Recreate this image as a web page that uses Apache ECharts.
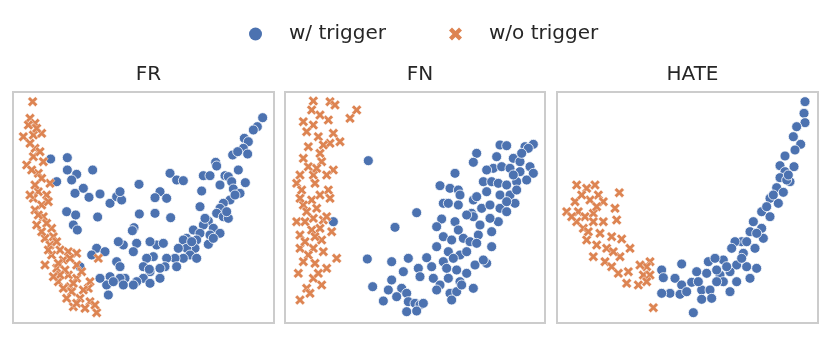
<!DOCTYPE html>
<html>
<head>
<meta charset="utf-8">
<script src="https://cdn.jsdelivr.net/npm/echarts@6/dist/echarts.min.js"></script>
<style>
  html, body { margin: 0; padding: 0; background: #fff; }
  #chart { width: 831px; height: 337px; }
</style>
</head>
<body>
<div id="chart"></div>
<script>
// t-SNE style coordinates (arbitrary units, y grows downward)
const panels = ['FR', 'FN', 'HATE'];
const legendNames = ['w/ trigger', 'w/o trigger'];

const frTrigger = [
  [758,98],[742,125],[730,135],[703,160],[715,170],[700,190],[668,210],[683,200],[713,207],[617,232],
  [620,243],[685,255],[645,272],[655,275],[580,272],[600,272],[630,300],[665,290],[706,293],[670,312],
  [690,325],[575,318],[660,345],[640,355],[630,370],[570,365],[620,385],[640,395],[655,400],[595,408],
  [580,420],[610,430],[550,435],[570,445],[600,450],[630,445],[560,465],[595,478],[530,460],[520,465],
  [555,490],[530,490],[505,490],[540,510],[520,520],[495,520],[470,520],[500,545],[465,545],[450,550],
  [430,515],[410,520],[440,480],[460,475],[420,470],[380,475],[370,500],[340,480],[325,470],[400,545],
  [420,560],[400,580],[420,595],[380,590],[370,600],[345,580],[330,580],[300,575],[290,600],[270,580],
  [340,600],[295,630],[260,490],[285,500],[245,510],[320,530],[330,545],[210,545],[418,553],
  [122,222],[172,218],[172,255],[200,268],[185,285],[248,255],[140,290],[220,310],[195,325],[237,337],
  [270,327],[300,355],[320,335],[335,345],[330,320],[387,298],[480,265],[500,285],[520,287],[450,320],
  [435,338],[470,340],[388,387],[435,385],[482,398],[170,380],[197,390],[263,396],[190,420],[202,435],
  [372,428],[367,437],[545,470],[610,460],[585,400],[650,380],[675,330],[560,520],[450,580],[310,590]
];
const frNoTrigger = [
  [68,50],[60,100],[75,115],[70,150],[95,145],[40,155],[75,190],[70,215],[50,240],[85,265],
  [120,295],[85,320],[110,330],[70,340],[95,360],[75,375],[100,395],[125,430],[130,455],[105,460],
  [120,480],[150,495],[175,500],[200,505],[125,510],[160,525],[200,540],[140,550],[175,570],[200,580],
  [145,590],[180,605],[240,590],[235,610],[185,620],[210,640],[240,650],[190,665],[260,683],[265,520],
  [55,120],[80,130],[60,175],[90,200],[100,230],[65,255],[95,280],[75,300],[60,330],[115,350],
  [85,390],[110,415],[95,440],[140,470],[115,495],[180,520],[145,535],[165,555],[215,560],[150,570],
  [190,595],[160,610],[220,615],[200,655],[225,670],[170,640],[255,660],[130,575],[105,540],[80,420]
];
const fnTrigger = [
  [265,227],[590,205],[660,180],[680,182],[735,185],[760,178],[745,190],[580,232],[650,215],[700,220],
  [720,230],[750,245],[760,265],[525,265],[480,302],[510,310],[535,315],[540,330],[610,290],[635,290],
  [655,295],[680,300],[710,290],[740,285],[640,250],[620,255],[665,245],[690,250],[490,355],[505,355],
  [535,360],[580,345],[590,335],[605,370],[630,360],[660,330],[690,330],[710,315],[705,355],[660,370],
  [680,380],[655,410],[630,400],[575,385],[580,395],[410,383],[345,427],[485,402],[470,425],[525,410],
  [535,435],[490,455],[515,465],[550,460],[570,470],[595,450],[590,475],[635,440],[635,485],[470,485],
  [505,500],[540,510],[520,520],[490,530],[440,518],[385,520],[262,522],[335,530],[370,560],[415,550],
  [420,575],[455,545],[460,580],[500,550],[530,555],[560,565],[585,540],[620,535],[610,525],[505,580],
  [540,590],[480,600],[470,615],[510,625],[530,620],[580,610],[335,585],[278,605],[325,615],[365,610],
  [380,625],[310,648],[350,635],[385,650],[405,655],[420,660],[380,680],[410,678],[430,655],[515,645],
  [160,410],[720,260],[700,270],[620,320],[560,500],[545,600],[600,420],[680,350],[725,205],[560,390]
];
const fnNoTrigger = [
  [100,48],[150,50],[165,60],[95,75],[230,75],[210,100],[145,105],[70,110],[100,120],[160,145],
  [115,155],[180,170],[150,175],[85,185],[120,205],[125,230],[85,245],[160,255],[100,270],[50,295],
  [105,295],[65,315],[145,315],[150,340],[95,345],[70,360],[110,370],[50,410],[75,410],[100,400],
  [130,405],[140,395],[95,435],[155,440],[60,450],[125,465],[60,490],[100,490],[85,510],[170,520],
  [105,535],[55,565],[140,550],[100,580],[125,600],[80,610],[60,645],[120,90],[80,140],[130,180],
  [70,220],[110,250],[60,270],[120,330],[80,380],[120,430],[75,470],[130,500],[70,530],[115,565],
  [90,625],[140,270],[60,340],[105,455]
];
const hateTrigger = [
  [765,50],[762,85],[765,113],[740,125],[730,155],[752,178],[735,195],[705,213],[690,242],[732,245],
  [705,260],[690,278],[720,290],[680,308],[700,322],[660,340],[685,355],[635,380],[660,395],[610,410],
  [635,430],[600,440],[640,460],[575,470],[615,490],[555,470],[545,490],[580,505],[520,525],[475,530],
  [495,520],[590,545],[620,550],[560,540],[540,560],[510,570],[470,565],[440,560],[395,537],[335,555],
  [340,578],[375,580],[425,592],[395,600],[360,625],[335,625],[390,628],[455,615],[480,615],[520,590],
  [540,620],[455,643],[485,640],[430,683],[500,590],[560,590],[600,580],[710,285],[650,365],[620,445],
  [575,520],[500,555],[445,590],[410,620],[530,545],[590,470],[670,330],[715,270]
];
const hateNoTrigger = [
  [80,300],[135,300],[110,310],[145,330],[208,323],[75,350],[120,345],[160,350],[195,370],[50,380],
  [85,380],[105,395],[130,385],[200,405],[80,410],[130,410],[160,410],[100,430],[150,445],[185,455],
  [110,465],[215,462],[170,490],[240,490],[130,515],[210,515],[165,530],[185,545],[300,530],[290,545],
  [205,565],[280,570],[300,570],[230,595],[265,600],[290,590],[310,668],[95,330],[140,365],[65,395],
  [115,440],[140,480],[190,500],[235,560],[270,540]
];

const blue = '#4c72b0';
const orange = '#dd8452';
const textColor = '#262626';
// thick filled "X" like seaborn's marker
const xSymbol = 'path://M0,424L-495,919L-919,495L-424,0L-919,-495L-495,-919L0,-424L495,-919L919,-495L424,0L919,495L495,919Z';

const gridBoxes = [
  { left: 13, width: 261, xMin: 9, xMax: 792 },
  { left: 285, width: 260, xMin: 15, xMax: 795 },
  { left: 557, width: 261, xMin: 21, xMax: 804 }
];
const panelData = [[frTrigger, frNoTrigger], [fnTrigger, fnNoTrigger], [hateTrigger, hateNoTrigger]];

const chart = echarts.init(document.getElementById('chart'), null, { renderer: 'canvas' });

const series = [];
panelData.forEach((pair, i) => {
  series.push({
    name: legendNames[0], type: 'scatter', xAxisIndex: i, yAxisIndex: i,
    data: pair[0], symbol: 'circle', symbolSize: 10,
    itemStyle: { color: blue, borderColor: '#fff', borderWidth: 0.8, opacity: 1 },
    silent: true, z: 2
  });
  series.push({
    name: legendNames[1], type: 'scatter', xAxisIndex: i, yAxisIndex: i,
    data: pair[1], symbol: xSymbol, symbolSize: 10,
    itemStyle: { color: orange, borderColor: '#fff', borderWidth: 0.4, opacity: 1 },
    silent: true, z: 3
  });
});

const legendText = { fontFamily: 'DejaVu Sans', fontSize: 20, color: textColor, padding: [0, 0, 0, 22] };

chart.setOption({
  animation: false,
  backgroundColor: '#fff',
  title: panels.map((t, i) => ({
    text: t,
    left: gridBoxes[i].left + gridBoxes[i].width / 2,
    top: 60,
    textAlign: 'center',
    textStyle: { fontFamily: 'DejaVu Sans', fontSize: 20, fontWeight: 'normal', color: textColor }
  })),
  legend: [
    {
      top: 19, left: 244, itemWidth: 13, itemHeight: 13,
      data: [{ name: legendNames[0], icon: 'circle', itemStyle: { borderWidth: 0 } }],
      textStyle: legendText
    },
    {
      top: 19, left: 444, itemWidth: 13, itemHeight: 13,
      data: [{ name: legendNames[1], icon: xSymbol, itemStyle: { borderWidth: 0 } }],
      textStyle: legendText
    }
  ],
  grid: gridBoxes.map(g => ({
    left: g.left, top: 92, width: g.width, height: 231,
    show: true, borderColor: '#cccccc', borderWidth: 2, backgroundColor: '#fff'
  })),
  xAxis: gridBoxes.map((g, i) => ({
    gridIndex: i, type: 'value', min: g.xMin, max: g.xMax, show: false
  })),
  yAxis: gridBoxes.map((g, i) => ({
    gridIndex: i, type: 'value', min: 21, max: 714, inverse: true, show: false
  })),
  series: series
});
</script>
</body>
</html>
